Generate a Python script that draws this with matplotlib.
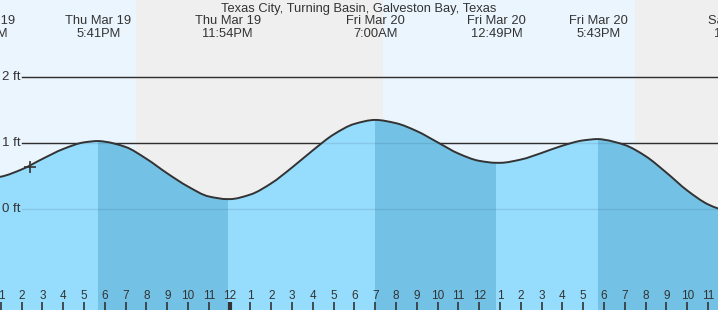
import numpy as np
import matplotlib
matplotlib.use('Agg')
import matplotlib.pyplot as plt
import matplotlib.transforms as mtransforms
from matplotlib.path import Path
from matplotlib.patches import PathPatch

plt.rcParams['font.family'] = ['Liberation Sans', 'DejaVu Sans']

# Tide heights (ft), hours counted from Thu Mar 19 00:00
tide_hours = [12, 12.1, 13, 14, 15, 16, 17, 17.68, 18, 19, 20, 21, 22, 23, 23.9,
              24, 25, 26, 27, 28, 29, 30, 31, 32, 33, 34, 35, 36, 36.82,
              37, 38, 39, 40, 41, 41.72, 42, 43, 44, 45, 46, 47, 48]
tide_ft = [0.45, 0.45, 0.49, 0.60, 0.76, 0.91, 1.01, 1.03, 1.02, 0.94, 0.76, 0.54, 0.34, 0.19, 0.15,
           0.15, 0.22, 0.39, 0.63, 0.89, 1.13, 1.29, 1.35, 1.30, 1.18, 1.01, 0.84, 0.73, 0.70,
           0.70, 0.75, 0.85, 0.96, 1.04, 1.06, 1.05, 0.97, 0.80, 0.55, 0.28, 0.07, -0.05]

# High / low events
event_hours = [12.1, 17.68, 23.9, 31.0, 36.82, 41.72, 48.53]
event_kind = ['low', 'high', 'low', 'high', 'low', 'high', 'low']
event_labels = ['Thu Mar 19\n12:06PM', 'Thu Mar 19\n5:41PM', 'Thu Mar 19\n11:54PM',
                'Fri Mar 20\n7:00AM', 'Fri Mar 20\n12:49PM', 'Fri Mar 20\n5:43PM',
                'Sat Mar 21\n12:32AM']

# Day / night
sun_events = [19.5, 31.37, 43.47]  # sunset Thu, sunrise Fri, sunset Fri

now_hour = 14.4
now_ft = 0.64

title = 'Texas City, Turning Basin, Galveston Bay, Texas'
gridlines_ft = [0, 1, 2]

W, H = 718, 310
x0, x1 = 12.957, 12.957 + W / 20.8
y0, y1 = -1.53, 3.167

fig = plt.figure(figsize=(W / 100, H / 100), dpi=100)
ax = fig.add_axes([0, 0, 1, 1])
ax.set_xlim(x0, x1)
ax.set_ylim(y0, y1)
ax.axis('off')

day_col = '#ebf5fe'
night_col = '#efefef'
ax.axvspan(x0, sun_events[0], color=day_col, lw=0, zorder=0)
ax.axvspan(sun_events[0], sun_events[1], color=night_col, lw=0, zorder=0)
ax.axvspan(sun_events[1], sun_events[2], color=day_col, lw=0, zorder=0)
ax.axvspan(sun_events[2], x1, color=night_col, lw=0, zorder=0)

# grid lines (dark under the fill, faint over it)
for g in gridlines_ft:
    ax.axhline(g, xmin=22 / W, xmax=1, color='#333333', lw=1, zorder=1)
    ax.axhline(g, xmin=22 / W, xmax=1, color='black', alpha=0.09, lw=1, zorder=3)
    ax.text(x0 + 2 / 20.8, g, '%d ft' % g, ha='left', va='center', fontsize=9.5,
            color='#333333', zorder=4)


# smooth (monotone cubic) bezier path through the readings
def smooth_path(xs, ys):
    xs = np.asarray(xs, float)
    ys = np.asarray(ys, float)
    hs = np.diff(xs)
    d = np.diff(ys) / hs
    m = np.zeros(len(xs))
    m[0], m[-1] = d[0], d[-1]
    for k in range(1, len(xs) - 1):
        if d[k - 1] * d[k] > 0:
            w1 = 2 * hs[k] + hs[k - 1]
            w2 = hs[k] + 2 * hs[k - 1]
            m[k] = (w1 + w2) / (w1 / d[k - 1] + w2 / d[k])
    verts = [(xs[0], ys[0])]
    codes = [Path.MOVETO]
    for k in range(len(xs) - 1):
        dx = hs[k] / 3
        verts += [(xs[k] + dx, ys[k] + m[k] * dx),
                  (xs[k + 1] - dx, ys[k + 1] - m[k + 1] * dx),
                  (xs[k + 1], ys[k + 1])]
        codes += [Path.CURVE4] * 3
    return verts, codes


verts, codes = smooth_path(tide_hours, tide_ft)
line_path = Path(verts, codes)
fill_path = Path(verts + [(tide_hours[-1], y0), (tide_hours[0], y0), verts[0]],
                 codes + [Path.LINETO, Path.LINETO, Path.CLOSEPOLY])

water = PathPatch(fill_path, facecolor='#96dcfd', lw=0, zorder=2)
ax.add_patch(water)

# falling tide (high -> low) is darker
for i in range(len(event_hours) - 1):
    if event_kind[i] == 'high':
        band = ax.axvspan(event_hours[i], event_hours[i + 1], color='#73c2e6',
                          lw=0, zorder=2.5)
        band.set_clip_path(water)

ax.add_patch(PathPatch(line_path, facecolor='none', edgecolor='#333333', lw=1.4, zorder=5))
ax.plot(now_hour, now_ft, marker='+', color='#333333', ms=9, mew=1.2, zorder=6)

# event labels and title
px = lambda y: 1 - y / H
trans = mtransforms.blended_transform_factory(ax.transData, ax.transAxes)
ax.text(0.5, px(11.7), title, ha='center', va='baseline', fontsize=9.3,
        color='#333333', transform=ax.transAxes)
for eh, lab in zip(event_hours, event_labels):
    l1, l2 = lab.split('\n')
    ax.text(eh, px(24), l1, ha='center', va='baseline', fontsize=9.3,
            color='#333333', transform=trans)
    ax.text(eh, px(36.7), l2, ha='center', va='baseline', fontsize=9.3,
            color='#333333', transform=trans)

# hour ticks along the bottom
for hr in range(13, 48):
    lab = str(hr % 12 if hr % 12 else 12)
    lw = 3 if hr % 24 == 0 else 1.2
    ax.plot([hr, hr], [px(302), 0], color='#333333', lw=lw, transform=trans,
            solid_capstyle='butt', zorder=7)
    ax.text(hr, px(296), lab, ha='center', va='center', fontsize=8.5,
            color='#333333', transform=trans, zorder=7)

fig.savefig('out.png', dpi=100)
